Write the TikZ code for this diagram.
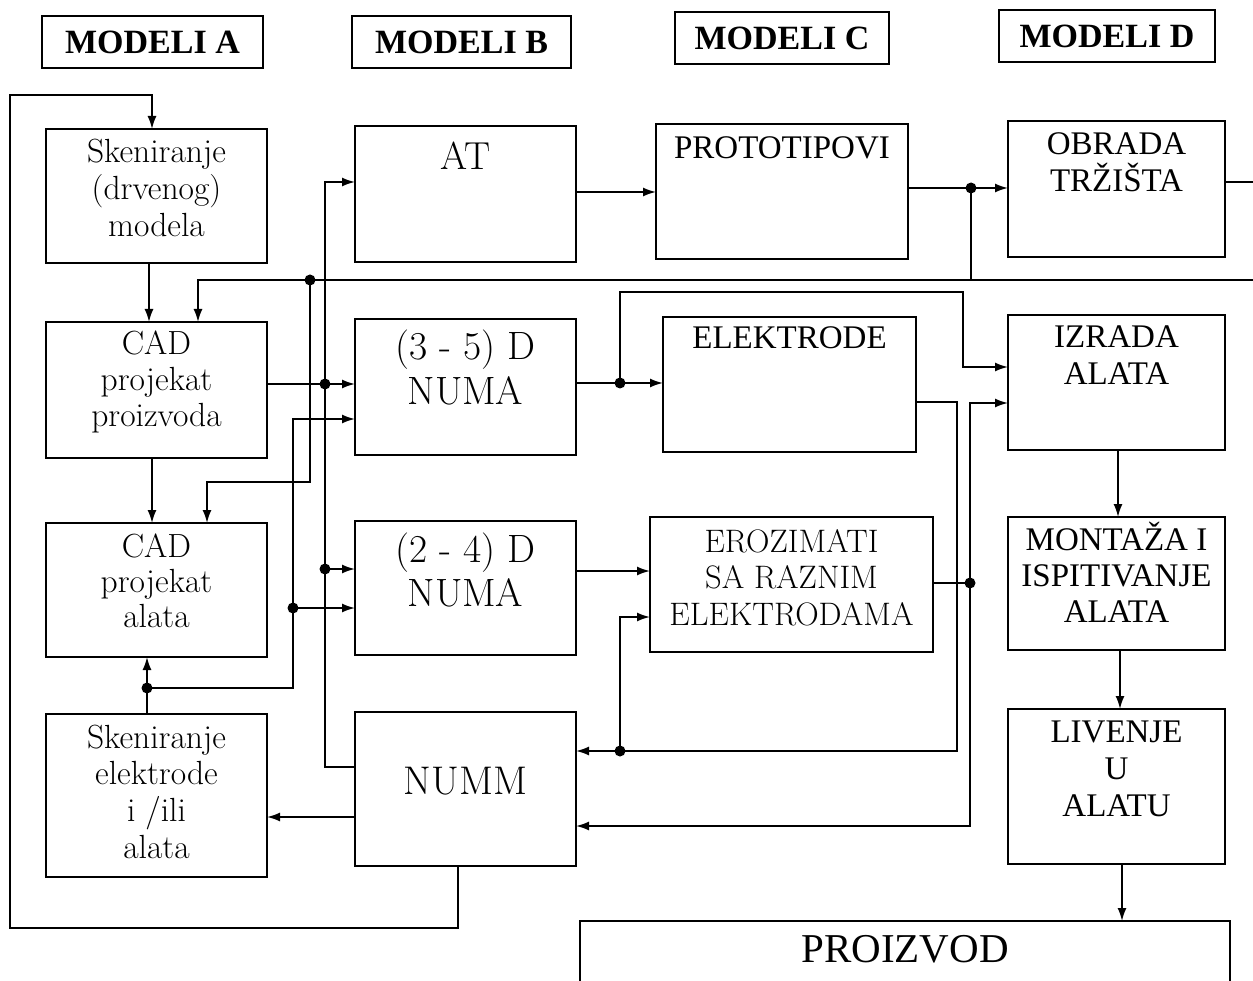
\documentclass[tikz,border=0pt]{standalone}
\usepackage{fontspec}
\newfontfamily\tms{Liberation Serif}
\usetikzlibrary{arrows.meta}
\newcommand{\bt}[4]{\begin{minipage}[c][#2pt][t]{#1pt}\centering\rule{0pt}{#3pt}#4\end{minipage}}
\tikzset{
  box/.style={draw, line width=1.8pt, inner sep=0pt, outer sep=0pt},
  hdr/.style={box, font=\tms\bfseries\fontsize{34}{40}\selectfont, minimum height=52pt},
  arr/.style={line width=1.7pt, -{Latex[length=13pt,width=9pt]}},
  ln/.style={line width=1.7pt},
  jd/.style={circle, fill, inner sep=0pt, minimum size=11pt},
}
\begin{document}
\begin{tikzpicture}[x=1pt,y=-1pt]
\useasboundingbox (0,0) rectangle (1253,981);
\clip (0,0) rectangle (1253,981);

% headers
\node[hdr, minimum width=221pt] (ha) at (152.5,42) {MODELI A};
\node[hdr, minimum width=219pt] (hb) at (461.5,42) {MODELI B};
\node[hdr, minimum width=214pt] (hc) at (782,38) {MODELI C};
\node[hdr, minimum width=216pt] (hd) at (1107,36) {MODELI D};

% column A
\node[box, font=\fontsize{33.5}{37}\selectfont] (skd) at (156.5,196) {\bt{221}{134}{34}{Skeniranje\\(drvenog)\\modela}};
\node[box, font=\fontsize{33.5}{36}\selectfont] (cadp) at (156.5,390) {\bt{221}{136}{33}{CAD\\projekat\\proizvoda}};
\node[box, font=\fontsize{33.5}{35}\selectfont] (cada) at (156.5,590) {\bt{221}{134}{34}{CAD\\projekat\\alata}};
\node[box, font=\fontsize{33.5}{36.7}\selectfont] (ske) at (156.5,795.5) {\bt{221}{163}{34}{Skeniranje\\elektrode\\i /ili\\alata}};

% column B
\node[box, font=\fontsize{39}{45}\selectfont] (at) at (465.5,194) {\bt{221}{136}{44}{AT}};
\node[box, font=\fontsize{39.5}{45}\selectfont] (numa35) at (465.5,387) {\bt{221}{136}{41}{(3 - 5) D\\NUMA}};
\node[box, font=\fontsize{39.5}{44}\selectfont] (numa24) at (465.5,588) {\bt{221}{134}{41}{(2 - 4) D\\NUMA}};
\node[box, font=\fontsize{40}{45}\selectfont] (numm) at (465.5,789) {\bt{221}{154}{82}{NUMM}};

% column C
\node[box, font=\tms\fontsize{33}{36.5}\selectfont] (proto) at (782,191.5) {\bt{252}{135}{35}{PROTOTIPOVI}};
\node[box, font=\tms\fontsize{33}{36.5}\selectfont] (elek) at (789.5,384.5) {\bt{253}{135}{32}{ELEKTRODE}};
\node[box, font=\fontsize{32.5}{36.5}\selectfont] (eroz) at (791.5,584.5) {\bt{283}{135}{35}{EROZIMATI\\SA RAZNIM\\ELEKTRODAMA}};

% column D
\node[box, font=\tms\fontsize{33}{37}\selectfont] (obr) at (1116.5,189) {\bt{217}{136}{34}{OBRADA\\TRŽIŠTA}};
\node[box, font=\tms\fontsize{33}{37}\selectfont] (izr) at (1116.5,382.5) {\bt{217}{135}{33}{IZRADA\\ALATA}};
\node[box, font=\tms\fontsize{33}{36}\selectfont] (mon) at (1116.5,583.5) {\bt{217}{133}{33}{MONTAŽA I\\ISPITIVANJE\\ALATA}};
\node[box, font=\tms\fontsize{33}{37}\selectfont] (liv) at (1116.5,786.5) {\bt{217}{155}{33}{LIVENJE\\U\\ALATU}};

\node[box, font=\tms\fontsize{41}{46}\selectfont] (proiz) at (905,965) {\bt{650}{88}{41}{PROIZVOD}};

% junction dots
\node[jd] (j1) at (147,688) {};
\node[jd] (j2) at (293,608) {};
\node[jd] (j3) at (310,280) {};
\node[jd] (j4) at (325,384) {};
\node[jd] (j5) at (325,569) {};
\node[jd] (j6) at (620,383) {};
\node[jd] (j7) at (620,751) {};
\node[jd] (j8) at (970,583) {};
\node[jd] (j9) at (971,188) {};

% big feedback loop NUMM -> Skeniranje (drvenog) modela
\draw[arr] (numm.south -| 458,0) -- (458,928) -- (10,928) -- (10,95) -- (152,95) -- (skd.north -| 152,0);

% column A vertical flow
\draw[arr] (skd.south -| 149,0) -- (cadp.north -| 149,0);
\draw[arr] (cadp.south -| 152,0) -- (cada.north -| 152,0);
\draw[arr] (ske.north -| 147,0) -- (cada.south -| 147,0);

% from scanning of electrode to NUMA machines
\draw[arr] (j1.center) -- (293,688) -- (293,419) -- (numa35.west |- 0,419);
\draw[arr] (j2.center) -- (numa24.west |- 0,608);

% market feedback line
\draw[arr] (obr.east |- 0,182) -- (1268,182) -- (1268,280) -- (198,280) -- (cadp.north -| 198,0);
\draw[arr] (j3.center) -- (310,482) -- (207,482) -- (cada.north -| 207,0);
\draw[arr] (proto.east |- 0,188) -- (obr.west |- 0,188);
\draw[ln] (j9.center) -- (971,280);

% AT -> PROTOTIPOVI
\draw[arr] (at.east |- 0,192) -- (proto.west |- 0,192);

% NUMM -> AT and NUMA machines
\draw[arr] (numm.west |- 0,767) -- (325,767) -- (325,182) -- (at.west |- 0,182);
\draw[arr] (j5.center) -- (numa24.west |- 0,569);
\draw[arr] (cadp.east |- 0,384) -- (numa35.west |- 0,384);

% (3-5) D NUMA -> ELEKTRODE, IZRADA ALATA
\draw[arr] (numa35.east |- 0,383) -- (elek.west |- 0,383);
\draw[arr] (j6.center) -- (620,292) -- (963,292) -- (963,367) -- (izr.west |- 0,367);

% ELEKTRODE -> NUMM, EROZIMATI
\draw[arr] (elek.east |- 0,402) -- (957,402) -- (957,751) -- (numm.east |- 0,751);
\draw[arr] (j7.center) -- (620,617) -- (eroz.west |- 0,617);

% (2-4) D NUMA -> EROZIMATI
\draw[arr] (numa24.east |- 0,571) -- (eroz.west |- 0,571);

% EROZIMATI -> IZRADA ALATA, NUMM
\draw[ln] (eroz.east |- 0,583) -- (j8.center);
\draw[arr] (j8.center) -- (970,403) -- (izr.west |- 0,403);
\draw[arr] (j8.center) -- (970,826) -- (numm.east |- 0,826);

% NUMM -> Skeniranje elektrode
\draw[arr] (numm.west |- 0,817) -- (ske.east |- 0,817);

% column D vertical flow
\draw[arr] (izr.south -| 1118,0) -- (mon.north -| 1118,0);
\draw[arr] (mon.south -| 1120,0) -- (liv.north -| 1120,0);
\draw[arr] (liv.south -| 1122,0) -- (proiz.north -| 1122,0);
\end{tikzpicture}
\end{document}
